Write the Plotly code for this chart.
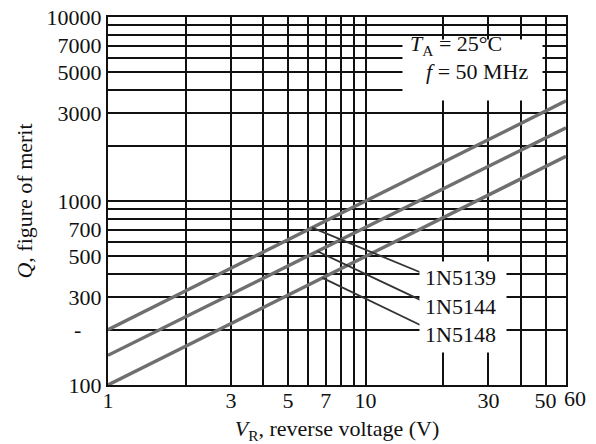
import math
import numpy as np
import plotly.graph_objects as go

# ---- data ----
v_r = [1, 60]                     # reverse voltage (V)
q_1n5139 = [200, 3500]            # Q, figure of merit
q_1n5144 = [145, 2500]
q_1n5148 = [100, 1750]
series_names = ["1N5139", "1N5144", "1N5148"]
series_q = [q_1n5139, q_1n5144, q_1n5148]

x_grid = [1, 2, 3, 4, 5, 6, 7, 8, 9, 10, 20, 30, 40, 50, 60]
x_text = ["1", "", "3", "", "5", "", "7", "", "", "10", "", "30", "", "50", ""]
y_grid = [100, 200, 300, 400, 500, 600, 700, 800, 900,
          1000, 2000, 3000, 4000, 5000, 6000, 7000, 8000, 9000, 10000]
y_text = ["100", "", "300", "", "500", "", "700", "", "",
          "1000", "", "3000", "", "5000", "", "7000", "", "", "10000"]

# leader lines: voltage where each label's leader meets its curve
leader_v = [6.2, 6.5, 6.8]

FONT = "Liberation Serif, Times New Roman, serif"
INK = "#111111"
CURVE = "#6f6f6f"
FS = 22

fig = go.Figure()
for name, q in zip(series_names, series_q):
    fig.add_trace(go.Scatter(x=v_r, y=q, mode="lines", name=name,
                             line=dict(color=CURVE, width=3.4),
                             showlegend=False, hoverinfo="x+y+name"))


def q_on_curve(v, q):
    lx = np.log10(v_r)
    ly = np.log10(q)
    return 10 ** float(np.interp(math.log10(v), lx, ly))


# leader tails sit at the left edge of each part label
tail_v = 16.3
tail_q = [410, 290, 212]
for name, q, lv, tq in zip(series_names, series_q, leader_v, tail_q):
    fig.add_trace(go.Scatter(x=[lv, tail_v], y=[q_on_curve(lv, q), tq], mode="lines",
                             line=dict(color="#333333", width=1.8),
                             showlegend=False, hoverinfo="skip"))


def note(**kw):
    base = dict(showarrow=False, xanchor="center", yanchor="middle",
                font=dict(family=FONT, size=FS, color=INK))
    base.update(kw)
    return base


annotations = []
# white areas where the printed grid is interrupted by text (drawn first)
annotations.append(note(text="\u00a0", xref="paper", yref="paper", x=0.796, y=0.856,
                        width=139, height=60, bgcolor="white", borderpad=0))
annotations.append(note(text="\u00a0", xref="paper", yref="paper", x=0.776, y=0.212,
                        width=86, height=90, bgcolor="white", borderpad=0))
# conditions text
annotations.append(note(text="<i>T</i><sub>A</sub> = 25°C", xref="paper", yref="paper",
                        x=0.655, y=0.925, xanchor="left"))
annotations.append(note(text="<i>f</i> = 50 MHz", xref="paper", yref="paper",
                        x=0.690, y=0.851, xanchor="left"))
# last x tick label and stray mark at 200 (placed as in the print)
annotations.append(note(text="60", xref="paper", yref="paper", x=1.0, y=0,
                        xanchor="left", yanchor="top", xshift=-4, yshift=1))
annotations.append(note(text="-", xref="paper", yref="y", x=-0.066, y=math.log10(200)))

label_y = [0.291, 0.212, 0.136]        # paper positions of the part labels
for name, ly in zip(series_names, label_y):
    annotations.append(note(text=name, xref="paper", yref="paper", x=0.688, y=ly,
                            xanchor="left"))

axis_common = dict(type="log", showgrid=True, gridcolor=INK, gridwidth=1.7,
                   showline=True, linecolor=INK, linewidth=2.2, mirror=True,
                   ticks="", zeroline=False, tickangle=0,
                   tickfont=dict(family=FONT, size=FS, color=INK))

fig.update_layout(
    width=596, height=444,
    margin=dict(l=108, r=30, t=17, b=59),
    paper_bgcolor="white", plot_bgcolor="white",
    xaxis=dict(axis_common, range=[0, math.log10(60)], tickmode="array",
               tickvals=x_grid, ticktext=x_text, ticklabelstandoff=-6,
               title=dict(text="<i>V</i><sub>R</sub>, reverse voltage (V)",
                          font=dict(family=FONT, size=FS, color=INK), standoff=9),
               automargin=False),
    yaxis=dict(axis_common, range=[2, 4], tickmode="array",
               tickvals=y_grid, ticktext=y_text,
               title=dict(text="<i>Q</i>, figure of merit",
                          font=dict(family=FONT, size=FS, color=INK), standoff=8),
               automargin=False),
    annotations=annotations,
)

fig.write_html("out.html")
